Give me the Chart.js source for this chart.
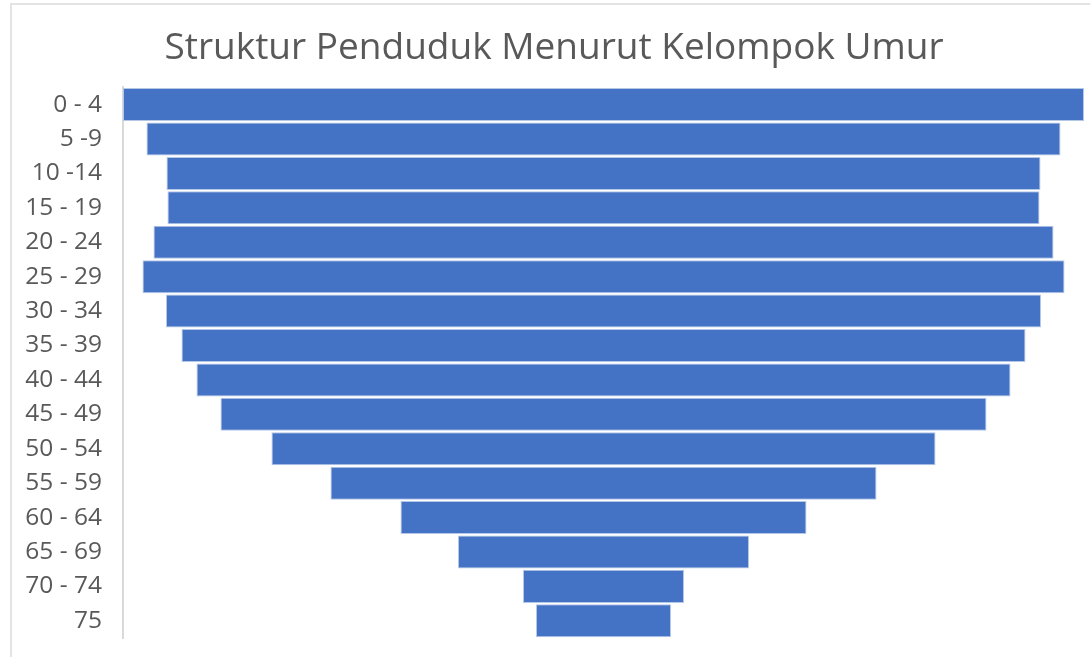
<!DOCTYPE html>
<html>
<head>
<meta charset="utf-8">
<script src="https://cdn.jsdelivr.net/npm/chart.js@4"></script>
<style>
  html, body { margin: 0; padding: 0; background: #fff; }
  #wrap { position: relative; width: 1090px; height: 657px; }
  #frame { position: absolute; left: 10px; top: 3px; right: 0; bottom: 0;
           border-left: 2px solid #e3e3e3; border-top: 2px solid #e3e3e3; }
  canvas { position: absolute; left: 0; top: 0; }
</style>
</head>
<body>
<div id="wrap">
  <div id="frame"></div>
  <canvas id="mycanvas" width="1090" height="657"></canvas>
</div>
<script>
// kelompok umur
var ageGroups = ['0 - 4', '5 -9', '10 -14', '15 - 19', '20 - 24', '25 - 29', '30 - 34', '35 - 39',
                 '40 - 44', '45 - 49', '50 - 54', '55 - 59', '60 - 64', '65 - 69', '70 - 74', '75'];
// jumlah penduduk (perkiraan dari gambar)
var population = [961, 914, 874, 872, 900, 922, 875, 844, 814, 766, 664, 546, 406, 291, 161, 135];

// bars are centred on zero, half to each side
var floating = [];
for (var i = 0; i < population.length; i++) {
  floating.push([-population[i] / 2, population[i] / 2]);
}
var half = Math.max.apply(null, population) / 2;

var ctx = document.getElementById('mycanvas');
var chart = new Chart(ctx, {
  type: 'bar',
  data: {
    labels: ageGroups,
    datasets: [{
      label: 'Penduduk',
      data: floating,
      backgroundColor: '#4472c4',
      borderColor: '#b4c7e7',
      borderWidth: 1,
      borderSkipped: false,
      barPercentage: 0.96,
      categoryPercentage: 1
    }]
  },
  options: {
    indexAxis: 'y',
    responsive: false,
    animation: false,
    layout: { padding: { left: 24, right: 6, top: 0, bottom: 19 } },
    plugins: {
      legend: { display: false },
      tooltip: { enabled: false },
      title: {
        display: true,
        text: 'Struktur Penduduk Menurut Kelompok Umur',
        color: '#595959',
        font: { family: 'Open Sans', size: 37, weight: 'normal' },
        padding: { top: 26, bottom: 17 }
      }
    },
    scales: {
      x: { display: false, min: -half, max: half },
      y: {
        afterFit: function (scale) {
          scale.width = 99;
          scale.paddingTop = 0;
          scale.paddingBottom = 0;
        },
        grid: { display: false, drawTicks: false },
        border: { display: true, color: '#d9d9d9', width: 2 },
        ticks: {
          color: '#595959',
          padding: 21,
          font: { family: 'Open Sans', size: 24.5 }
        }
      }
    }
  }
});
</script>
</body>
</html>
